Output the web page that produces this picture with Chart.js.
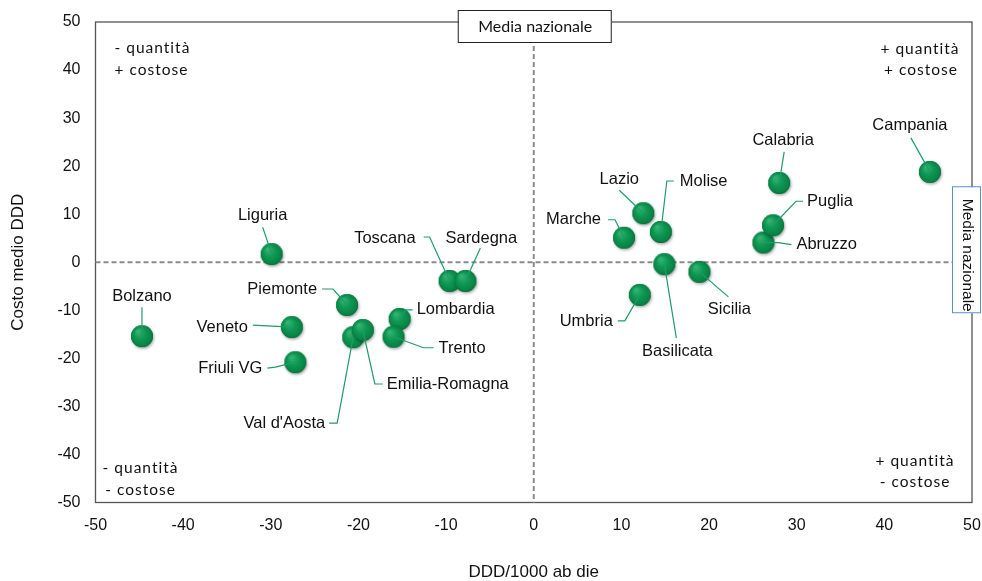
<!DOCTYPE html>
<html>
<head>
<meta charset="utf-8">
<script src="https://cdn.jsdelivr.net/npm/chart.js@4.4.1/dist/chart.umd.min.js"></script>
<style>
  html, body { margin: 0; padding: 0; background: #fff; }
  #wrap { width: 982px; height: 581px; position: relative; }
</style>
</head>
<body>
<div id="wrap"><canvas id="chart" width="982" height="581"></canvas></div>
<script>
// === Data ===
const regions = ["Bolzano", "Liguria", "Piemonte", "Veneto", "Friuli VG", "Val d'Aosta", "Emilia-Romagna",
  "Lombardia", "Trento", "Toscana", "Sardegna", "Marche", "Lazio", "Molise", "Basilicata", "Umbria",
  "Sicilia", "Calabria", "Campania", "Abruzzo", "Puglia"];
const dddValues = [-44.7, -29.9, -21.3, -27.6, -27.2, -20.6, -19.5, -15.3, -16.0, -9.6, -7.8,
  10.3, 12.5, 14.5, 14.9, 12.1, 18.9, 28.0, 45.2, 26.2, 27.3];
const costValues = [-15.4, 1.7, -8.9, -13.5, -20.8, -15.6, -14.1, -11.8, -15.5, -3.9, -3.9,
  5.1, 10.2, 6.3, -0.4, -6.8, -2.0, 16.5, 18.8, 4.1, 7.7];
const xTicks = [-50, -40, -30, -20, -10, 0, 10, 20, 30, 40, 50];
const yTicks = [-50, -40, -30, -20, -10, 0, 10, 20, 30, 40, 50];

// label layout: text offset from the point (px), alignment, leader path offsets
const labelLayout = {
  "Bolzano":        { dx: 0,   dy: -40, align: "center", path: [[0, -29], [0, 0]] },
  "Liguria":        { dx: -9,  dy: -39, align: "center", path: [[-9, -27], [0, 0]] },
  "Piemonte":       { dx: -30, dy: -16, align: "right",  path: [[-25, -16], [-14, -16], [0, 0]] },
  "Veneto":         { dx: -44, dy: 0,   align: "right",  path: [[-39, -2], [0, 0]] },
  "Friuli VG":      { dx: -33, dy: 6,   align: "right",  path: [[-28, 6], [-20, 5], [0, 0]] },
  "Val d'Aosta":    { dx: -28, dy: 86,  align: "right",  path: [[-24, 86], [-16, 86], [0, 0]] },
  "Emilia-Romagna": { dx: 24,  dy: 54,  align: "left",   path: [[20, 54], [12, 54], [0, 0]] },
  "Lombardia":      { dx: 17,  dy: -9,  align: "left",   path: [[13, -9], [6, -9], [0, 0]] },
  "Trento":         { dx: 45,  dy: 12,  align: "left",   path: [[40, 11], [30, 11], [0, 0]] },
  "Toscana":        { dx: -34, dy: -43, align: "right",  path: [[-26, -44], [-20, -44], [0, 0]] },
  "Sardegna":       { dx: 16,  dy: -43, align: "center", path: [[15, -33], [0, 0]] },
  "Marche":         { dx: -23, dy: -18, align: "right",  path: [[-16, -18], [-9, -18], [0, 0]] },
  "Lazio":          { dx: -24, dy: -34, align: "center", path: [[-24, -23], [0, 0]] },
  "Molise":         { dx: 19,  dy: -51, align: "left",   path: [[13, -51], [6, -51], [0, 0]] },
  "Basilicata":     { dx: 13,  dy: 87,  align: "center", path: [[12, 74], [0, 0]] },
  "Umbria":         { dx: -27, dy: 27,  align: "right",  path: [[-22, 26], [-15, 26], [0, 0]] },
  "Sicilia":        { dx: 30,  dy: 38,  align: "center", path: [[29, 25], [0, 0]] },
  "Calabria":       { dx: 4,   dy: -43, align: "center", path: [[5, -31], [0, 0]] },
  "Campania":       { dx: -20, dy: -46, align: "center", path: [[-19, -34], [0, 0]] },
  "Abruzzo":        { dx: 33,  dy: 2,   align: "left",   path: [[28, 2], [15, 0], [0, 0]] },
  "Puglia":         { dx: 34,  dy: -24, align: "left",   path: [[30, -24], [23, -24], [0, 0]] }
};

const ARIAL = "'Liberation Sans', Arial, sans-serif";
const SOFT = "Lato, 'Open Sans', sans-serif";

// green ball used as point style
function makeBall() {
  const c = document.createElement("canvas");
  c.width = 30; c.height = 30;
  const g = c.getContext("2d");
  g.save();
  g.shadowColor = "rgba(0,0,0,0.35)";
  g.shadowBlur = 3;
  g.shadowOffsetX = 1;
  g.shadowOffsetY = 1.5;
  g.beginPath();
  g.arc(15, 15, 11, 0, Math.PI * 2);
  g.fillStyle = "#0b7f45";
  g.fill();
  g.restore();
  const grad = g.createRadialGradient(11, 10, 1, 15, 15, 11.5);
  grad.addColorStop(0, "#34b272");
  grad.addColorStop(0.45, "#0e9953");
  grad.addColorStop(0.85, "#098446");
  grad.addColorStop(1, "#076a39");
  g.beginPath();
  g.arc(15, 15, 11, 0, Math.PI * 2);
  g.fillStyle = grad;
  g.fill();
  return c;
}

const points = regions.map((r, i) => ({ x: dddValues[i], y: costValues[i], name: r }));

const framePlugin = {
  id: "frame",
  beforeDatasetsDraw(chart) {
    const { ctx, chartArea: a, scales } = chart;
    ctx.save();
    ctx.strokeStyle = "#555";
    ctx.lineWidth = 1.3;
    ctx.strokeRect(a.left, a.top, a.right - a.left, a.bottom - a.top);
    const x0 = scales.x.getPixelForValue(0);
    const y0 = scales.y.getPixelForValue(0);
    ctx.strokeStyle = "#8a8a8a";
    ctx.lineWidth = 2;
    ctx.setLineDash([5, 3]);
    ctx.beginPath();
    ctx.moveTo(x0, a.top); ctx.lineTo(x0, a.bottom);
    ctx.moveTo(a.left, y0); ctx.lineTo(a.right, y0);
    ctx.stroke();
    ctx.restore();
  },
  afterDatasetsDraw(chart) {
    const { ctx, chartArea: a, scales } = chart;
    const meta = chart.getDatasetMeta(0);
    ctx.save();
    // leaders and labels
    meta.data.forEach((el, i) => {
      const lay = labelLayout[regions[i]];
      if (!lay) return;
      ctx.strokeStyle = "#1f9b6b";
      ctx.lineWidth = 1.2;
      ctx.beginPath();
      lay.path.forEach((p, k) => {
        const px = el.x + p[0], py = el.y + p[1];
        if (k === 0) ctx.moveTo(px, py); else ctx.lineTo(px, py);
      });
      ctx.stroke();
      ctx.fillStyle = "#111";
      ctx.font = "16.5px " + ARIAL;
      ctx.textAlign = lay.align;
      ctx.textBaseline = "middle";
      ctx.fillText(regions[i], el.x + lay.dx, el.y + lay.dy);
    });

    // corner notes
    ctx.font = "15.5px " + SOFT;
    ctx.letterSpacing = "1px";
    ctx.fillStyle = "#111";
    ctx.textBaseline = "middle";
    ctx.textAlign = "left";
    ctx.fillText("- quantità", a.left + 19, a.top + 26);
    ctx.fillText("+ costose", a.left + 19, a.top + 48);
    ctx.textAlign = "center";
    ctx.fillText("+ quantità", a.right - 52, a.top + 27);
    ctx.fillText("+ costose", a.right - 51, a.top + 48);
    ctx.fillText("- quantità", a.left + 45, a.bottom - 35);
    ctx.fillText("- costose", a.left + 45, a.bottom - 13);
    ctx.fillText("+ quantità", a.right - 57, a.bottom - 42);
    ctx.fillText("- costose", a.right - 57, a.bottom - 21);
    ctx.letterSpacing = "0px";

    // "Media nazionale" boxes
    const x0 = scales.x.getPixelForValue(0);
    const y0 = scales.y.getPixelForValue(0);
    ctx.fillStyle = "#fff";
    ctx.fillRect(x0 - 75, 10, 153, 32);
    ctx.strokeStyle = "#222";
    ctx.lineWidth = 1;
    ctx.strokeRect(x0 - 75.5, 10.5, 153, 32);
    ctx.fillStyle = "#111";
    ctx.font = "16px " + SOFT;
    ctx.textAlign = "center";
    ctx.fillText("Media nazionale", x0 + 1.5, 26.5);

    ctx.fillStyle = "#fff";
    ctx.fillRect(952, y0 - 75, 29, 126);
    ctx.strokeStyle = "#5b8fc9";
    ctx.strokeRect(952.5, y0 - 75.5, 28, 126);
    ctx.save();
    ctx.translate(967, y0 - 7);
    ctx.rotate(Math.PI / 2);
    ctx.fillStyle = "#111";
    ctx.font = "15.5px " + ARIAL;
    ctx.fillText("Media nazionale", 0, 0);
    ctx.restore();
    ctx.restore();
  }
};

new Chart(document.getElementById("chart"), {
  type: "scatter",
  data: {
    datasets: [{
      data: points,
      pointStyle: makeBall(),
      pointRadius: 11,
      pointHoverRadius: 11
    }]
  },
  options: {
    responsive: false,
    animation: false,
    events: [],
    layout: { autoPadding: false, padding: { top: 22, right: 10, left: 0, bottom: 0 } },
    plugins: { legend: { display: false }, tooltip: { enabled: false } },
    scales: {
      x: {
        type: "linear",
        min: -50, max: 50,
        afterBuildTicks: s => { s.ticks = xTicks.map(v => ({ value: v })); },
        afterFit: s => { s.height = 78.5; s.paddingLeft = 0; s.paddingRight = 0; },
        grid: { display: false, drawTicks: false },
        border: { display: false },
        ticks: { color: "#111", font: { family: ARIAL, size: 16 }, padding: 13, maxRotation: 0 },
        title: { display: true, text: "DDD/1000 ab die", color: "#111",
          font: { family: ARIAL, size: 17, lineHeight: 1 }, padding: { top: 0, bottom: 0 } }
      },
      y: {
        type: "linear",
        min: -50, max: 50,
        afterBuildTicks: s => { s.ticks = yTicks.map(v => ({ value: v })); },
        afterFit: s => { s.width = 95.5; s.paddingTop = 0; s.paddingBottom = 0; },
        grid: { display: false, drawTicks: false },
        border: { display: false },
        ticks: { color: "#111", font: { family: ARIAL, size: 16 }, padding: 15 },
        title: { display: true, text: "Costo medio DDD", color: "#111",
          font: { family: ARIAL, size: 17 }, padding: { top: 8, bottom: 0 } }
      }
    }
  },
  plugins: [framePlugin]
});
</script>
</body>
</html>
